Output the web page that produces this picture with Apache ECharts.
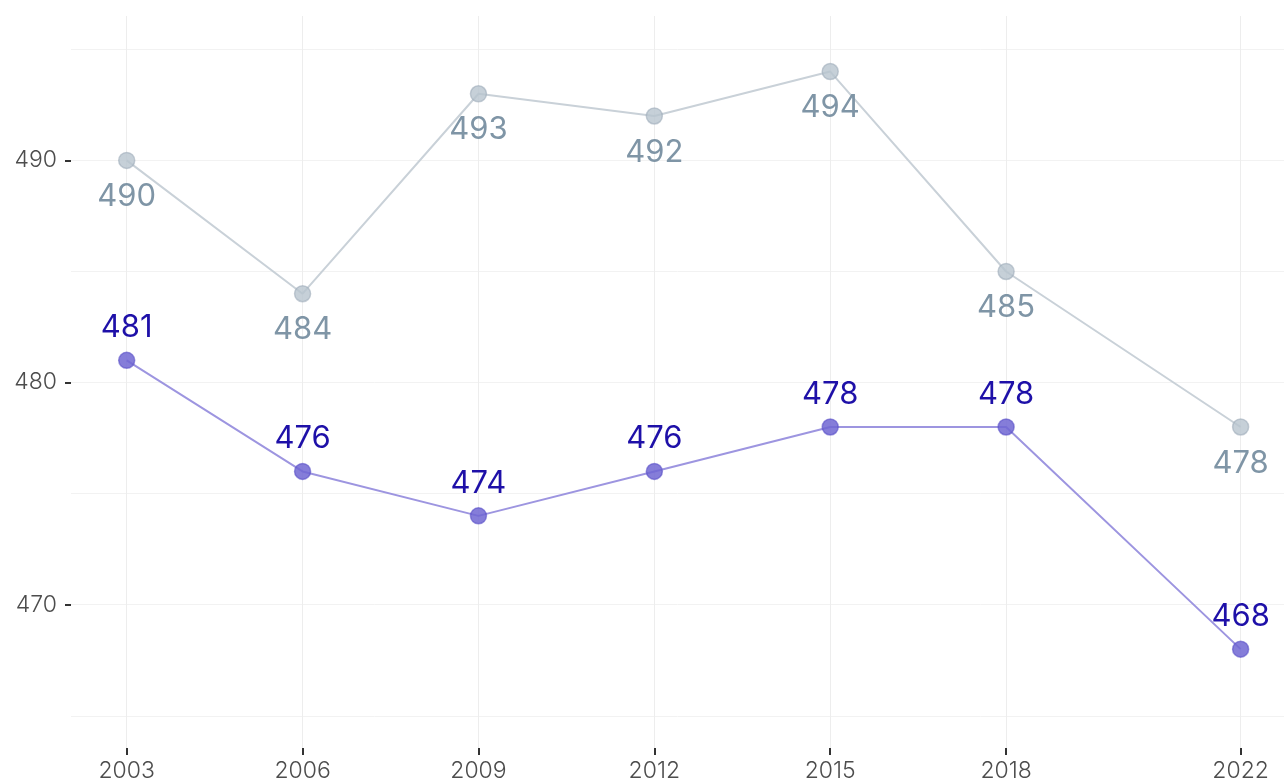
<!DOCTYPE html>
<html>
<head>
<meta charset="utf-8">
<script src="https://cdn.jsdelivr.net/npm/echarts@6/dist/echarts.min.js"></script>
<style>
  html, body { margin: 0; padding: 0; background: #fff; }
  #main { width: 1284px; height: 783px; }
</style>
</head>
<body>
<div id="main"></div>
<script>
// data
const years = [2003, 2006, 2009, 2012, 2015, 2018, 2022];
const upperScores = [490, 484, 493, 492, 494, 485, 478]; // grey line
const lowerScores = [481, 476, 474, 476, 478, 478, 468]; // blue line
const yLabelValues = [470, 480, 490];
const yGridValues = [465, 470, 475, 480, 485, 490, 495];

const font = 'Inter';
const chart = echarts.init(document.getElementById('main'));

const pairs = (vals) => years.map((y, i) => [y, vals[i]]);

const option = {
  animation: false,
  grid: { left: 71, right: 0, top: 16, bottom: 33, containLabel: false },
  xAxis: {
    type: 'value',
    min: 2002.05,
    max: 2022.74,
    axisLine: { show: false },
    axisTick: { show: true, customValues: years, length: 7, inside: false,
      lineStyle: { color: '#333', width: 2 } },
    axisLabel: { customValues: years, margin: 12, color: '#4d4d4d',
      fontFamily: font, fontWeight: 300, fontSize: 23,
      formatter: (v) => String(v) },
    splitLine: { show: true, lineStyle: { color: '#ededed', width: 1 } }
  },
  yAxis: [
    {
      type: 'value',
      min: 463.55,
      max: 496.5,
      axisLine: { show: false },
      axisTick: { show: true, customValues: yLabelValues, length: 6,
        lineStyle: { color: '#333', width: 2 } },
      axisLabel: { customValues: yLabelValues, margin: 14, color: '#4d4d4d',
        fontFamily: font, fontWeight: 300, fontSize: 23 },
      splitLine: { show: false }
    },
    {
      // only used to draw the horizontal grid lines
      type: 'value',
      min: 463.55,
      max: 496.5,
      position: 'left',
      axisLine: { show: false },
      axisTick: { show: false, customValues: yGridValues },
      axisLabel: { show: false, customValues: yGridValues },
      splitLine: { show: true, lineStyle: { color: '#f2f2f2', width: 1 } }
    }
  ],
  series: [
    {
      name: 'upper',
      type: 'line',
      data: pairs(upperScores),
      symbol: 'circle',
      symbolSize: 16,
      lineStyle: { color: '#c9d1d8', width: 2 },
      itemStyle: { color: 'rgba(184,196,206,0.8)', borderColor: 'rgba(160,174,186,0.6)', borderWidth: 1.5 },
      label: {
        show: true, position: 'bottom', distance: 12,
        color: '#7f95a6', fontFamily: font, fontSize: 31,
        formatter: (p) => p.value[1]
      },
      z: 2
    },
    {
      name: 'lower',
      type: 'line',
      data: pairs(lowerScores),
      symbol: 'circle',
      symbolSize: 16,
      lineStyle: { color: '#9d95e0', width: 2 },
      itemStyle: { color: 'rgba(112,102,210,0.85)', borderColor: 'rgba(90,80,200,0.6)', borderWidth: 1.5 },
      label: {
        show: true, position: 'top', distance: 8,
        color: '#1e10a8', fontFamily: font, fontSize: 31,
        formatter: (p) => p.value[1]
      },
      z: 3
    }
  ]
};

chart.setOption(option);
</script>
</body>
</html>
